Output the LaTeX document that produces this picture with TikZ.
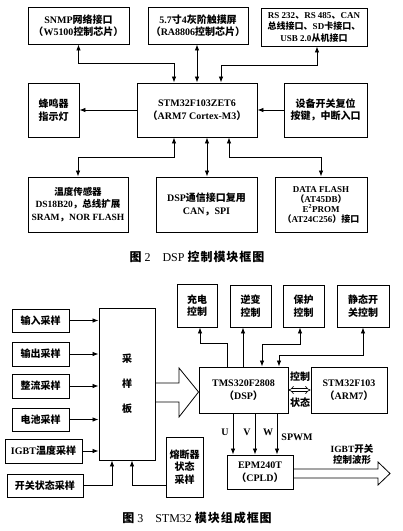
\documentclass[tikz,border=0pt]{standalone}
\usepackage{fontspec}
\setmainfont{Liberation Serif}
\newfontfamily\cjk{Noto Sans CJK SC}
\newfontfamily\cjkcap{Noto Sans CJK SC}[LetterSpace=8]
\usetikzlibrary{arrows.meta}
\newcommand\zh[1]{{\cjk #1}}
\newcommand\zhc[1]{{\cjkcap #1}}
\begin{document}
\begin{tikzpicture}[x=1pt,y=-1pt,
  box/.style={draw, line width=0.9pt, inner sep=0pt, align=center,
    font=\bfseries\fontsize{10}{12.5}\selectfont},
  arr/.style={line width=0.8pt, -{Latex[length=6pt,width=4.5pt]}},
  darr/.style={line width=0.8pt, {Latex[length=6pt,width=4.5pt]}-{Latex[length=6pt,width=4.5pt]}},
  lab/.style={inner sep=0pt, align=center, font=\bfseries\fontsize{10}{12}\selectfont},
  captext/.style={inner sep=0pt, font=\fontsize{12}{14}\selectfont}]
\useasboundingbox (0,0) rectangle (403,531);
\fill[white] (0,0) rectangle (403,531);

% ---------- Figure 2 ----------
\node[box, minimum width=101pt, minimum height=37pt] (snmp) at (78.5,25.5)
  {SNMP\zh{网络接口}\\\zh{（}W5100\zh{控制芯片）}};
\node[box, minimum width=100pt, minimum height=37pt] (lcd) at (198,25.5)
  {5.7\zh{寸}4\zh{灰阶触摸屏}\\\zh{（}RA8806\zh{控制芯片）}};
\node[box, minimum width=106pt, minimum height=38pt,
  font=\bfseries\fontsize{9}{11.5}\selectfont] (rs) at (314,27)
  {RS 232\zh{、}RS 485\zh{、}CAN\\\zh{总线接口、}SD\zh{卡接口、}\\USB 2.0\zh{从机接口}};
\node[box, minimum width=51pt, minimum height=54pt] (buzz) at (53.5,110)
  {\zh{蜂鸣器}\\\zh{指示灯}};
\node[box, minimum width=120pt, minimum height=54pt] (stm) at (197,110)
  {STM32F103ZET6\\\zh{（}ARM7 Cortex-M3\zh{）}};
\node[box, minimum width=83pt, minimum height=54pt] (dev) at (325.5,110)
  {\zh{设备开关复位}\\\zh{按键，中断入口}};
\node[box, minimum width=100pt, minimum height=55pt,
  font=\bfseries\fontsize{9.5}{12.5}\selectfont] (temp) at (78,204.5)
  {\zh{温度传感器}\\DS18B20\zh{，总线扩展}\\SRAM\zh{，}NOR FLASH};
\node[box, minimum width=101pt, minimum height=55pt] (dspc) at (206.5,204.5)
  {DSP\zh{通信接口复用}\\CAN\zh{，}SPI};
\node[box, minimum width=92pt, minimum height=55pt,
  font=\bfseries\fontsize{9}{10}\selectfont] (flash) at (321,204.5)
  {DATA FLASH\\\zh{（}AT45DB\zh{）}\\E\textsuperscript{2}PROM\\\zh{（}AT24C256\zh{）接口}};
\node[captext] (cap2) at (197,257)
  {\zhc{\bfseries 图} 2\quad DSP \zhc{\bfseries 控制模块框图}};

\draw[darr] (snmp.south) -- (snmp.south |- 0,63) -- (174,63) -- (174,0 |- stm.north);
\draw[darr] (lcd.south -| 197,0) -- (197,0 |- stm.north);
\draw[darr] (317,0 |- rs.south) -- (317,65) -- (221,65) -- (221,0 |- stm.north);
\draw[arr] (stm.west) -- (buzz.east);
\draw[arr] (dev.west) -- (stm.east);
\draw[darr] (174,0 |- stm.south) -- (174,157) -- (78,157) -- (78,0 |- temp.north);
\draw[darr] (207,0 |- stm.south) -- (207,0 |- dspc.north);
\draw[darr] (229,0 |- stm.south) -- (229,157) -- (321,157) -- (flash.north);

% ---------- Figure 3 ----------
\node[box, minimum width=57pt, minimum height=23pt] (in) at (40.5,320.5) {\zh{输入采样}};
\node[box, minimum width=57pt, minimum height=24pt] (out) at (40.5,354) {\zh{输出采样}};
\node[box, minimum width=57pt, minimum height=24pt] (zl) at (40.5,386) {\zh{整流采样}};
\node[box, minimum width=57pt, minimum height=23pt] (bat) at (40.5,419.5) {\zh{电池采样}};
\node[box, minimum width=77pt, minimum height=24pt] (igbt) at (43.5,451) {IGBT\zh{温度采样}};
\node[box, minimum width=76pt, minimum height=23pt] (sw) at (45,485.5) {\zh{开关状态采样}};
\node[box, minimum width=56pt, minimum height=152pt,
  font=\bfseries\fontsize{10}{25}\selectfont] (cyb) at (127,384) {\zh{采}\\\zh{样}\\\zh{板}};
\node[box, minimum width=40pt, minimum height=43pt] (cd) at (197,305.5) {\zh{充电}\\\zh{控制}};
\node[box, minimum width=41pt, minimum height=42pt] (nb) at (250.5,306) {\zh{逆变}\\\zh{控制}};
\node[box, minimum width=41pt, minimum height=42pt] (bh) at (303.5,306) {\zh{保护}\\\zh{控制}};
\node[box, minimum width=52pt, minimum height=42pt] (jt) at (363,306) {\zh{静态开}\\\zh{关控制}};
\node[box, minimum width=89pt, minimum height=46pt] (tms) at (243.5,390) {TMS320F2808\\\zh{（}DSP\zh{）}};
\node[box, minimum width=76pt, minimum height=46pt] (arm) at (349,390) {STM32F103\\\zh{（}ARM7\zh{）}};
\node[box, minimum width=37pt, minimum height=60pt] (rdq) at (184.5,467) {\zh{熔断器}\\\zh{状态}\\\zh{采样}};
\node[box, minimum width=66pt, minimum height=34pt] (epm) at (260,472) {EPM240T\\\zh{（}CPLD\zh{）}};

\node[lab] (lctl) at (300,377) {\zh{控制}};
\node[lab] (lsta) at (300,403) {\zh{状态}};
\node[lab] (lu) at (225,432) {U};
\node[lab] (lv) at (247,432) {V};
\node[lab] (lw) at (268,432) {W};
\node[lab] (lspwm) at (297,437) {SPWM};
\node[lab, font=\bfseries\fontsize{9.5}{11}\selectfont] (ligbt) at (352,454) {IGBT\zh{开关}\\\zh{控制波形}};
\node[captext] (cap3) at (197,518)
  {\zhc{\bfseries 图} 3\quad STM32 \zhc{\bfseries 模块组成框图}};

\foreach \n in {in,out,zl,bat,igbt} \draw[arr] (\n.east) -- (cyb.west |- \n.east);
\draw[arr] (sw.east) -- (112,0 |- sw.east) -- (112,0 |- cyb.south);
\draw[arr] (rdq.west |- sw.east) -- (132,0 |- sw.east) -- (132,0 |- cyb.south);

\draw[arr] (227,0 |- tms.north) -- (227,343) -- (200,343) -- (200,0 |- cd.south);
\draw[arr] (243,0 |- tms.north) -- (243,0 |- nb.south);
\draw[darr] (262,0 |- tms.north) -- (262,344) -- (300,344) -- (300,0 |- bh.south);
\draw[darr] (279,0 |- tms.north) -- (279,355) -- (363,355) -- (363,0 |- jt.south);

% big hollow arrow sampling board -> DSP
\draw[line width=0.8pt, line join=miter] (cyb.east |- 0,383) -- (179,383) -- (179,368)
  -- (tms.west |- 0,392) -- (179,417) -- (179,402) -- (cyb.east |- 0,402);

% DSP <-> ARM
\draw[line width=0.6pt, double, double distance=2.2pt, {Implies}-{Implies}]
  (tms.east) -- (arm.west);

\foreach \xx in {233,255,277} \draw[arr] (\xx,0 |- tms.south) -- (\xx,0 |- epm.north);

% output hollow arrow
\draw[line width=0.8pt, line join=miter] (epm.east |- 0,469) -- (378,469) -- (378,462)
  -- (390,473.5) -- (378,485) -- (378,478) -- (epm.east |- 0,478);
\end{tikzpicture}
\end{document}
